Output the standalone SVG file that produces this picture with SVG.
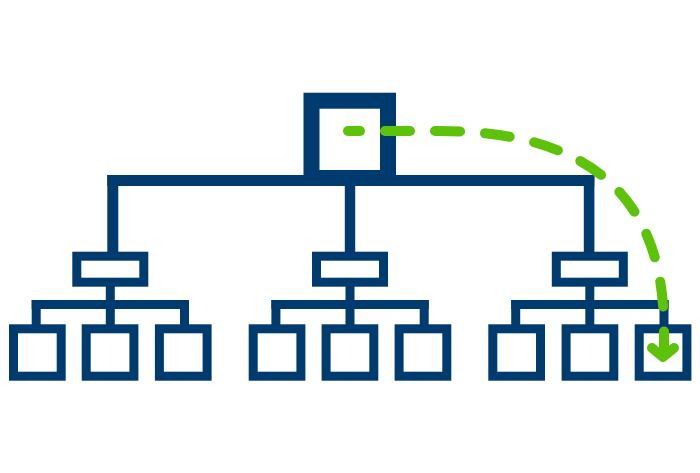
<svg xmlns="http://www.w3.org/2000/svg" width="700" height="473" viewBox="0 0 700 473">
<style>
.box{fill:none;stroke:#003B70;stroke-width:9}
.top{fill:none;stroke:#003B70;stroke-width:16}
.bar{fill:#003B70}
.flow{fill:none;stroke:#5CC20A;stroke-width:10;stroke-linecap:round;stroke-linejoin:round}
</style>
<defs>
<g id="tree">
<rect class="bar" x="-4.5" y="286" width="9" height="15"/>
<rect class="bar" x="-78.6" y="300" width="157.3" height="9"/>
<rect class="bar" x="-78.6" y="300" width="9" height="26"/>
<rect class="bar" x="-4.5" y="300" width="9" height="26"/>
<rect class="bar" x="69.7" y="300" width="9" height="26"/>
</g>
</defs>
<rect width="700" height="473" fill="#fff"/>
<g id="connectors">
<rect class="bar" x="107.3" y="175" width="487" height="11"/>
<rect class="bar" x="107.3" y="175" width="11" height="78"/>
<rect class="bar" x="344.8" y="180" width="10.4" height="73"/>
<rect class="bar" x="583.8" y="175" width="10.6" height="78"/>
<use href="#tree" x="110.3"/>
<use href="#tree" x="350"/>
<use href="#tree" x="589.8"/>
</g>
<g id="root"><rect class="top" x="311.5" y="100.7" width="76.5" height="77.3"/></g>
<g id="mid1"><rect class="box" x="76.8" y="256.2" width="67" height="26"/></g>
<g id="mid2"><rect class="box" x="316.5" y="256.2" width="67" height="26"/></g>
<g id="mid3"><rect class="box" x="556.3" y="256.2" width="67" height="26"/></g>
<g id="leaf1"><rect class="box" x="13.5" y="328.8" width="47.7" height="47.4"/></g>
<g id="leaf2"><rect class="box" x="86.2" y="328.8" width="47.7" height="47.4"/></g>
<g id="leaf3"><rect class="box" x="159.4" y="328.8" width="47.7" height="47.4"/></g>
<g id="leaf4"><rect class="box" x="253.2" y="328.8" width="47.7" height="47.4"/></g>
<g id="leaf5"><rect class="box" x="326.1" y="328.8" width="47.7" height="47.4"/></g>
<g id="leaf6"><rect class="box" x="399.1" y="328.8" width="47.7" height="47.4"/></g>
<g id="leaf7"><rect class="box" x="492.8" y="328.8" width="47.7" height="47.4"/></g>
<g id="leaf8"><rect class="box" x="566.1" y="328.8" width="47.7" height="47.4"/></g>
<g id="leaf9"><rect class="box" x="639.2" y="328.8" width="47.7" height="47.4"/></g>
<g id="flow">
<path class="flow" d="M348,131 H440 C575,131 664,185 664,330 V355" stroke-dasharray="25 25" stroke-dashoffset="13"/>
<polyline class="flow" points="652,348 663,357 674,348"/>
</g>
</svg>
